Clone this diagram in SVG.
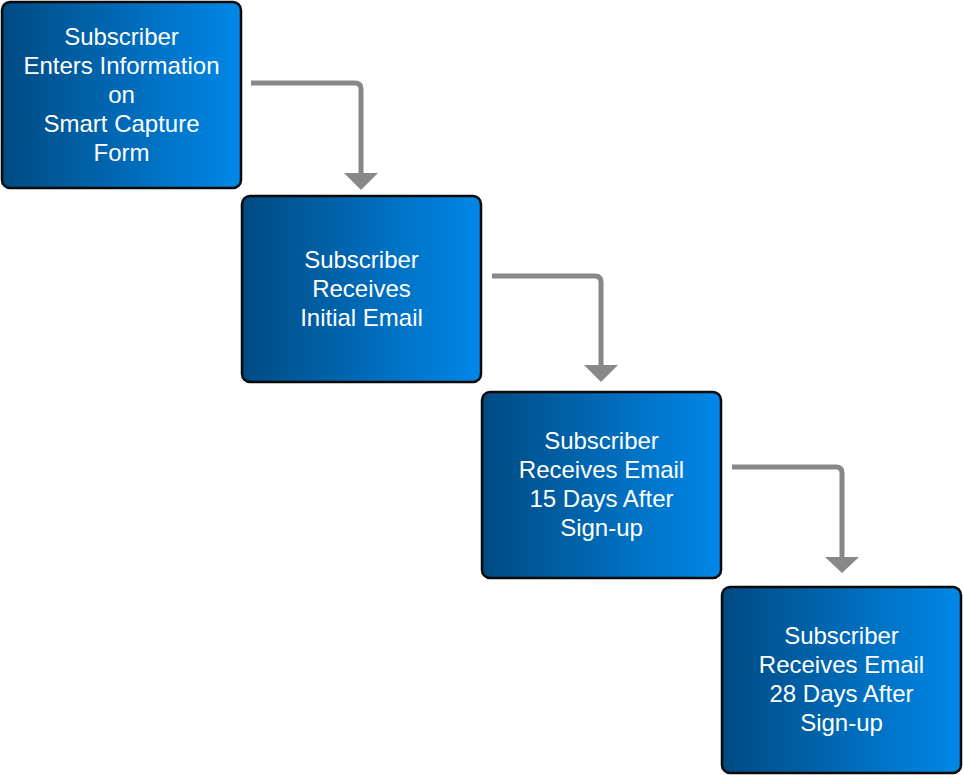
<svg xmlns="http://www.w3.org/2000/svg" width="963" height="775" viewBox="0 0 963 775">
<defs>
<linearGradient id="g" x1="0" y1="0" x2="1" y2="0">
<stop offset="0" stop-color="#004a82"/>
<stop offset="1" stop-color="#0088e8"/>
</linearGradient>
<style>
.box{fill:url(#g);stroke:#0a0a0a;stroke-width:2.5}
.t{font-family:"Liberation Sans",Arial,sans-serif;font-size:24px;fill:#fff;text-anchor:middle}
.c{fill:none;stroke:#888;stroke-width:5;stroke-linejoin:round}
.h{fill:#888}
</style>
</defs>
<rect width="963" height="775" fill="#fff"/>
<g id="connectors">
<path class="c" d="M251 83 H355 Q361 83 361 89 V175"/>
<polygon class="h" points="344,173 378,173 361,190"/>
<path class="c" d="M492 276 H595 Q601 276 601 282 V367"/>
<polygon class="h" points="584,365 618,365 601,382"/>
<path class="c" d="M732 467 H836 Q842 467 842 473 V559"/>
<polygon class="h" points="825,557 859,557 842,573"/>
</g>
<g id="n1">
<rect class="box" x="2" y="2" width="239" height="186" rx="8"/>
<text class="t" x="121.5" y="45">Subscriber</text>
<text class="t" x="121.5" y="74">Enters Information</text>
<text class="t" x="121.5" y="103">on</text>
<text class="t" x="121.5" y="132">Smart Capture</text>
<text class="t" x="121.5" y="161">Form</text>
</g>
<g id="n2">
<rect class="box" x="242" y="196" width="239" height="186" rx="8"/>
<text class="t" x="361.5" y="268">Subscriber</text>
<text class="t" x="361.5" y="297">Receives</text>
<text class="t" x="361.5" y="326">Initial Email</text>
</g>
<g id="n3">
<rect class="box" x="482" y="392" width="239" height="186" rx="8"/>
<text class="t" x="601.5" y="449">Subscriber</text>
<text class="t" x="601.5" y="478">Receives Email</text>
<text class="t" x="601.5" y="507">15 Days After</text>
<text class="t" x="601.5" y="536">Sign-up</text>
</g>
<g id="n4">
<rect class="box" x="722" y="587" width="239" height="186" rx="8"/>
<text class="t" x="841.5" y="644">Subscriber</text>
<text class="t" x="841.5" y="673">Receives Email</text>
<text class="t" x="841.5" y="702">28 Days After</text>
<text class="t" x="841.5" y="731">Sign-up</text>
</g>
</svg>
